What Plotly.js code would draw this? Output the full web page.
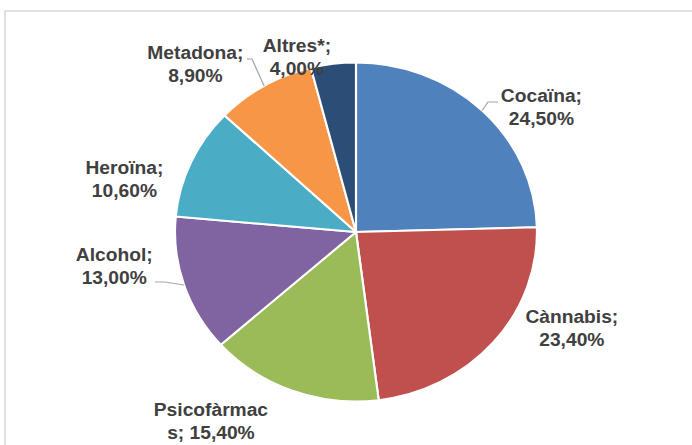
<!DOCTYPE html>
<html>
<head>
<meta charset="utf-8">
<script src="https://cdn.plot.ly/plotly-3.0.1.min.js"></script>
<style>
html,body{margin:0;padding:0;background:#fff;overflow:hidden;}
#wrap{width:692px;height:445px;overflow:hidden;}
#chart{transform-origin:0 0;}
</style>
</head>
<body>
<div id="wrap"><div id="chart"></div></div>
<script>
// ---- data ----
const categories = ["Cocaïna", "Cànnabis", "Psicofàrmacs", "Alcohol", "Heroïna", "Metadona", "Altres*"];
const values = [24.5, 23.4, 15.4, 13.0, 10.6, 8.9, 4.0];
const colors = ["#4F81BD", "#C0504D", "#9BBB59", "#8064A2", "#4BACC6", "#F79646", "#2C4D75"];

// ---- layout config (reference pixels) ----
const W = 692, H = 445;
const CX = 356, CY = 232;          // pie centre
const RY = 169.5, RX = 181;        // the reference pie is slightly stretched horizontally
const S = RX / RY;                 // horizontal stretch factor
const WI = W / S;                  // internal plot width before the stretch
// label block centres (pixel)
const labelPos = [[541, 107], [572, 328], [211, 421], [114, 266], [124, 179], [195, 64], [297, 57]];
// leader-line label ends (pixel); null = none
const leaderEnd = [[[498, 102], [488, 102]], null, null, [[155, 282], [165, 282]], null, [[247, 59], [252, 59]], null];

const px = x => x / W;
const py = y => 1 - y / H;

function fmt(v) { return v.toFixed(2).replace('.', ',') + '%'; }
function labelText(name, v) {
  if (name === "Psicofàrmacs") return "Psicofàrmac<br>s; " + fmt(v);
  return name + ";<br>" + fmt(v);
}

const total = values.reduce((a, b) => a + b, 0);
let cum = 0;
const shapes = [];
const annotations = [];
values.forEach((v, i) => {
  const mid = (cum + v / 2) / total * 2 * Math.PI; // clockwise from top
  cum += v;
  const ex = CX + RX * Math.sin(mid), ey = CY - RY * Math.cos(mid);
  annotations.push({
    x: px(labelPos[i][0]), y: py(labelPos[i][1]), xref: 'paper', yref: 'paper',
    text: labelText(categories[i], v), showarrow: false,
    xanchor: 'center', yanchor: 'middle', align: 'center',
    font: {family: 'Liberation Sans, Arial, sans-serif', size: 18, color: '#404040', weight: 'bold'}
  });
  if (leaderEnd[i]) {
    const [a, b] = leaderEnd[i];
    shapes.push({
      type: 'path', xref: 'paper', yref: 'paper',
      path: `M ${px(a[0])} ${py(a[1])} L ${px(b[0])} ${py(b[1])} L ${px(ex)} ${py(ey)}`,
      line: {color: '#A6A6A6', width: 1.2}
    });
  }
});
// chart-area border
shapes.push({type: 'rect', xref: 'paper', yref: 'paper', x0: px(5), y0: py(11), x1: px(720), y1: py(470),
  line: {color: '#D9D9D9', width: 1.5}, layer: 'below'});

const cxp = px(CX), rxp = RY / WI;
const trace = {
  type: 'pie', labels: categories, values: values, sort: false, direction: 'clockwise', rotation: 0,
  marker: {colors: colors, line: {color: '#FFFFFF', width: 2}},
  textinfo: 'none', hoverinfo: 'none', showlegend: false,
  domain: {x: [cxp - rxp, cxp + rxp], y: [py(CY + RY), py(CY - RY)]}
};

document.getElementById('chart').style.transform = 'scaleX(' + S + ')';
Plotly.newPlot('chart', [trace], {
  width: WI, height: H, margin: {l: 0, r: 0, t: 0, b: 0},
  paper_bgcolor: '#FFFFFF', showlegend: false,
  shapes: shapes, annotations: annotations
}, {displayModeBar: false, staticPlot: true});
</script>
</body>
</html>
